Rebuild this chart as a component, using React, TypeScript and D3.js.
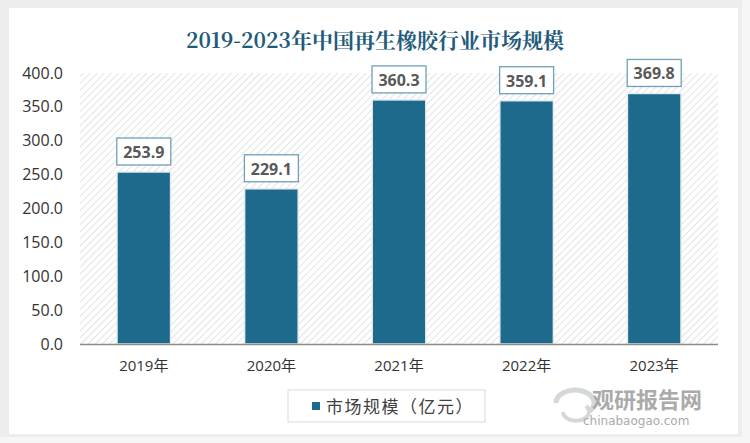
import React from "react";
import * as d3 from "d3";

const years = ["2019年", "2020年", "2021年", "2022年", "2023年"];
const marketSize = [253.9, 229.1, 360.3, 359.1, 369.8];
const yTicks = [0, 50, 100, 150, 200, 250, 300, 350, 400];
const title = "2019-2023年中国再生橡胶行业市场规模";
const seriesName = "市场规模（亿元）";

const W = 750;
const H = 443;
const plot = { left: 80, right: 718, top: 73, bottom: 344 };
const barColor = "#1e6a8d";
const font = "'Open Sans', 'Noto Sans CJK SC', sans-serif";

const App = () => {
  const x = d3.scaleBand<string>().domain(years).range([plot.left, plot.right]).paddingInner(0.58).paddingOuter(0.29);
  const y = d3.scaleLinear().domain([0, 400]).range([plot.bottom, plot.top]);

  return (
    <svg width={W} height={H} style={{ position: "absolute", left: 0, top: 0 }}>
      <defs>
        <pattern id="hatch" width="5" height="5" patternUnits="userSpaceOnUse" patternTransform="rotate(45)">
          <rect width="5" height="5" fill="#ffffff" />
          <line x1="0" y1="0" x2="0" y2="5" stroke="#dcdcdc" strokeWidth="1.6" />
        </pattern>
      </defs>
      {/* background + card */}
      <rect x={0} y={0} width={W} height={H} fill="#ededed" />
      <rect x={742} y={0} width={8} height={H} fill="#f6f6f6" />
      <rect x={0} y={437} width={W} height={6} fill="#f6f6f6" />
      <rect x={9} y={8} width={729} height={426} fill="#ffffff" />

      <text x={375} y={48} textAnchor="middle" fontFamily="'Noto Serif CJK SC', 'DejaVu Serif', 'Noto Sans CJK SC', serif"
        fontSize={21} fontWeight="bold" fill="#1f5c7c">{title}</text>

      {/* plot area hatch */}
      <rect x={plot.left} y={plot.top} width={plot.right - plot.left} height={plot.bottom - plot.top} fill="url(#hatch)" />

      {/* y axis labels */}
      {yTicks.map((t) => (
        <text key={t} x={63} y={y(t) + 5.5} textAnchor="end" fontFamily={font} fontSize={16} fill="#333">
          {t.toFixed(1)}
        </text>
      ))}

      {/* bars */}
      {marketSize.map((v, i) => {
        const bx = x(years[i]) as number;
        const bw = x.bandwidth();
        const top = y(v);
        const label = v.toFixed(1);
        const lw = 54;
        const lh = 27;
        const cx = bx + bw / 2;
        return (
          <g key={years[i]}>
            <rect x={bx} y={top} width={bw} height={plot.bottom - top} fill={barColor} stroke="#e6ecef" strokeWidth={1.5} />
            <rect x={cx - lw / 2} y={top - lh - 7} width={lw} height={lh} fill="#fff" stroke="#6f9fbb" strokeWidth={1.3} />
            <text x={cx} y={top - 14} textAnchor="middle" fontFamily={font} fontSize={16} fontWeight="bold" fill="#595959">
              {label}
            </text>
          </g>
        );
      })}

      {/* x axis */}
      <line x1={plot.left} x2={plot.right} y1={plot.bottom + 0.5} y2={plot.bottom + 0.5} stroke="#8c8c8c" strokeWidth={1.5} />
      {years.map((yr) => (
        <text key={yr} x={(x(yr) as number) + x.bandwidth() / 2} y={371} textAnchor="middle" fontFamily={font} fontSize={15} fill="#333">
          {yr}
        </text>
      ))}

      {/* legend */}
      <rect x={288} y={390} width={197} height={32} fill="#fff" stroke="#d9d9d9" strokeWidth={1} />
      <rect x={312} y={402} width={8} height={8} fill={barColor} />
      <text x={326} y={413} fontFamily={font} fontSize={17} letterSpacing={1.5} fill="#404040">{seriesName}</text>

      {/* watermark */}
      <g opacity={0.75}>
        <path d="M556 403 a 19 13 0 1 1 34 8" fill="none" stroke="#c8cbcc" strokeWidth={5} />
        <path d="M563 412 a 13 9 0 1 0 23 -6" fill="none" stroke="#c8cbcc" strokeWidth={4} />
        <text x={592} y={408} fontFamily="'Noto Sans CJK SC', sans-serif" fontSize={22} fontWeight="bold" fill="#8e8e8e">观研报告网</text>
        <text x={583} y={425} fontFamily="'DejaVu Sans', sans-serif" fontSize={12} fill="#8e8e8e">chinabaogao.com</text>
      </g>
    </svg>
  );
};

export default App;
